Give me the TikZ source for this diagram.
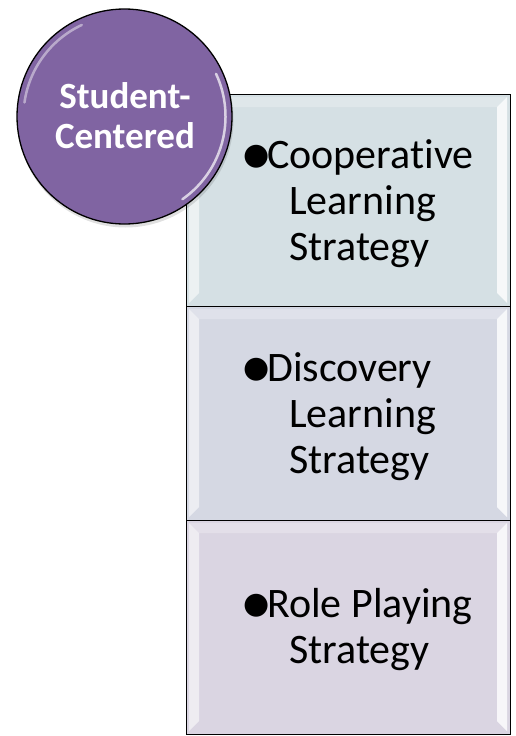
\documentclass[tikz,border=0pt]{standalone}
\usepackage{fontspec}
\setmainfont{Carlito}[Ligatures=CommonOff]
\newfontfamily\symfont{DejaVu Sans}
\definecolor{circfill}{HTML}{8064A2}
\definecolor{boxa}{HTML}{D5E0E4}
\definecolor{boxb}{HTML}{D5D8E3}
\definecolor{boxc}{HTML}{DAD5E2}
\newcommand\mybul{\makebox[24pt][l]{\raisebox{4pt}{\symfont\fontsize{30}{30}\selectfont ●}}}
\tikzset{
  boxstyle/.style={draw=black, line width=1.3pt},
  bevel/.style={fill=white, fill opacity=0.55, draw=none},
  boxtext/.style={anchor=base west, inner sep=0pt, align=left, font=\fontsize{42}{46}\selectfont},
  circstyle/.style={circle, draw=black, line width=1.3pt, fill=circfill, minimum size=215pt, inner sep=0pt},
  circtext/.style={anchor=base, inner sep=0pt, align=center, text=white, font=\bfseries\fontsize{37}{40}\selectfont},
  gloss/.style={draw=white, draw opacity=0.45, line width=2.5pt, line cap=round}
}
\begin{document}
\begin{tikzpicture}[x=1pt,y=-1pt]
\useasboundingbox (0,0) rectangle (516,736);
% boxes
\fill[boxa] (186,94) rectangle (510,306);
\fill[boxb] (186,306) rectangle (510,520);
\fill[boxc] (186,520) rectangle (510,734);
\foreach \t/\b in {94/306,306/520,520/734}{
  \fill[bevel] (189,\t+3) -- (199,\t+13) -- (199,\b-13) -- (189,\b-3) -- cycle;
  \fill[white, fill opacity=0.8] (507,\t+3) -- (497,\t+13) -- (497,\b-13) -- (507,\b-3) -- cycle;
  \fill[white, fill opacity=0.25] (189,\t+3) -- (507,\t+3) -- (497,\t+13) -- (199,\t+13) -- cycle;
}
\node[boxstyle, rectangle, minimum width=324pt, minimum height=212pt, inner sep=0pt, anchor=north west] (box1) at (186,94) {};
\node[boxstyle, rectangle, minimum width=324pt, minimum height=214pt, inner sep=0pt, anchor=north west] (box2) at (186,306) {};
\node[boxstyle, rectangle, minimum width=324pt, minimum height=214pt, inner sep=0pt, anchor=north west] (box3) at (186,520) {};
\node[boxtext] (t1) at (243,260) {\mybul Cooperative\\\hspace*{46pt}Learning\\\hspace*{46pt}Strategy};
\node[boxtext] (t2) at (243,473) {\mybul Discovery\\\hspace*{46pt}Learning\\\hspace*{46pt}Strategy};
\node[boxtext] (t3) at (243,663) {\mybul Role Playing\\\hspace*{46pt}Strategy};
% circle
\fill[black, opacity=0.12] (125.5,119.5) circle (108pt);
\node[circstyle] (circ) at (124.5,116.5) {};
\draw[gloss] (circ.center) ++(-172:101) arc (-172:-115:101);
\draw[gloss, draw opacity=0.7] (circ.center) ++(-25:101) arc (-25:55:101);
\node[circtext] (ctext) at (125,148) {Student-\\Centered};
\end{tikzpicture}
\end{document}
